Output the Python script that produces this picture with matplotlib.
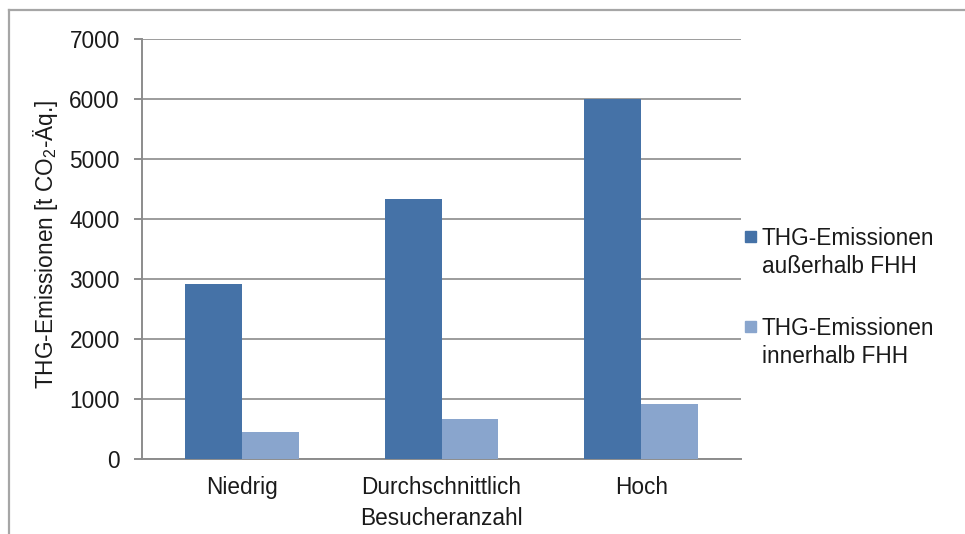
import matplotlib
matplotlib.use('Agg')
import matplotlib.pyplot as plt
from matplotlib.lines import Line2D
from matplotlib.patches import Rectangle
import numpy as np

plt.rcParams['font.family'] = ['Liberation Sans', 'DejaVu Sans']
plt.rcParams['mathtext.fontset'] = 'custom'
plt.rcParams['mathtext.rm'] = 'Liberation Sans'
plt.rcParams['mathtext.it'] = 'Liberation Sans'

# data
categories = ['Niedrig', 'Durchschnittlich', 'Hoch']
ausserhalb = [2920, 4330, 6000]
innerhalb = [450, 670, 920]
series_labels = ['THG-Emissionen\naußerhalb FHH', 'THG-Emissionen\ninnerhalb FHH']
yticks = [0, 1000, 2000, 3000, 4000, 5000, 6000, 7000]

dark = '#4572A7'
light = '#89A5CD'
grid_col = '#9C9C9C'
axis_col = '#8C8C8C'
text_col = '#1A1A1A'
fs = 16.3

W, H = 965, 534
fig = plt.figure(figsize=(W / 100, H / 100), dpi=100)
ax = fig.add_axes([142 / W, 1 - 459 / H, (741 - 142) / W, (459 - 39) / H])

x = np.arange(len(categories))
bw = 0.285
ax.bar(x - bw / 2, ausserhalb, bw, color=dark, zorder=3)
ax.bar(x + bw / 2, innerhalb, bw, color=light, zorder=3)

ax.set_xlim(-0.5, 2.5)
ax.set_ylim(0, 7000)
ax.set_yticks(yticks)
ax.set_xticks(x)
ax.set_xticklabels(categories)
ax.yaxis.grid(True, color=grid_col, linewidth=1.4, zorder=0)

for s in ['top', 'right']:
    ax.spines[s].set_visible(False)
ax.spines['left'].set_color(axis_col)
ax.spines['bottom'].set_color(axis_col)
ax.spines['left'].set_linewidth(1.4)
ax.spines['bottom'].set_linewidth(1.4)

ax.tick_params(axis='y', length=6, width=1.4, color=axis_col, pad=10,
               labelsize=fs, labelcolor=text_col)
ax.tick_params(axis='x', length=0, pad=12.5, labelsize=fs, labelcolor=text_col)

ax.set_ylabel(r'THG-Emissionen [t CO$_2$-Äq.]', fontsize=fs, color=text_col)
ax.yaxis.set_label_coords((60 - 142) / 599, 0.51)
ax.set_xlabel('Besucheranzahl', fontsize=fs, color=text_col)
ax.xaxis.set_label_coords(0.5, (459 - 507) / 420)

# legend drawn by hand to place the squares like the original
for col, lab, ytop in [(dark, series_labels[0], 230), (light, series_labels[1], 320)]:
    fig.patches.append(Rectangle((745 / W, 1 - (ytop + 12) / H), 11 / W, 11 / H,
                                 transform=fig.transFigure, color=col))
    fig.text(762 / W, 1 - (ytop - 3) / H, lab, fontsize=fs, color=text_col,
             va='top', ha='left', linespacing=1.27)

# outer chart frame (top and left edges visible)
fig.add_artist(Line2D([9 / W, 1], [1 - 10 / H, 1 - 10 / H], color='#A6A6A6',
                      linewidth=1.6, transform=fig.transFigure))
fig.add_artist(Line2D([9 / W, 9 / W], [0, 1 - 10 / H], color='#A6A6A6',
                      linewidth=1.6, transform=fig.transFigure))

fig.savefig('out.png', dpi=100)
